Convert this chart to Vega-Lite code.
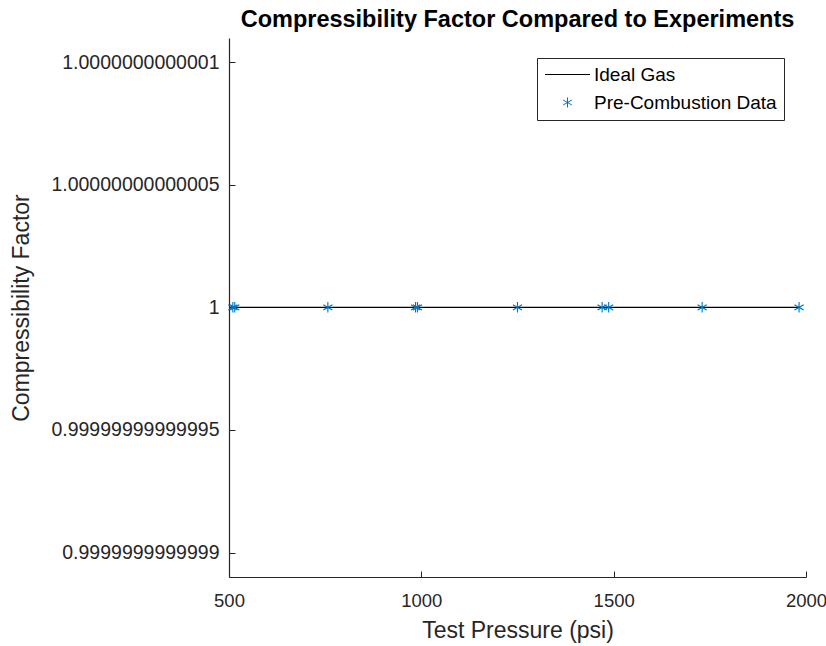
{
  "$schema": "https://vega.github.io/schema/vega-lite/v6.json",
  "width": 577,
  "height": 539,
  "autosize": {"type": "none"},
  "padding": {"left": 229, "top": 38, "right": 20, "bottom": 69},
  "background": "white",
  "config": {
    "view": {"stroke": null},
    "font": "Liberation Sans",
    "axis": {"domainColor": "#262626", "tickColor": "#262626", "labelColor": "#262626", "titleColor": "#262626", "grid": false, "labelFont": "Liberation Sans", "titleFont": "Liberation Sans", "titleFontWeight": "normal"}
  },
  "title": {"text": "Compressibility Factor Compared to Experiments", "fontSize": 23.5, "fontWeight": "bold", "font": "Liberation Sans", "color": "black", "anchor": "middle", "offset": 7},
  "data": {"values": [
    {"pressure": 510, "z": 1, "series": "Ideal Gas"},
    {"pressure": 515, "z": 1, "series": "Ideal Gas"},
    {"pressure": 757, "z": 1, "series": "Ideal Gas"},
    {"pressure": 985, "z": 1, "series": "Ideal Gas"},
    {"pressure": 990, "z": 1, "series": "Ideal Gas"},
    {"pressure": 1250, "z": 1, "series": "Ideal Gas"},
    {"pressure": 1470, "z": 1, "series": "Ideal Gas"},
    {"pressure": 1487, "z": 1, "series": "Ideal Gas"},
    {"pressure": 1730, "z": 1, "series": "Ideal Gas"},
    {"pressure": 1982, "z": 1, "series": "Ideal Gas"},
    {"pressure": 510, "z": 1, "series": "Pre-Combustion Data"},
    {"pressure": 515, "z": 1, "series": "Pre-Combustion Data"},
    {"pressure": 757, "z": 1, "series": "Pre-Combustion Data"},
    {"pressure": 985, "z": 1, "series": "Pre-Combustion Data"},
    {"pressure": 990, "z": 1, "series": "Pre-Combustion Data"},
    {"pressure": 1250, "z": 1, "series": "Pre-Combustion Data"},
    {"pressure": 1470, "z": 1, "series": "Pre-Combustion Data"},
    {"pressure": 1487, "z": 1, "series": "Pre-Combustion Data"},
    {"pressure": 1730, "z": 1, "series": "Pre-Combustion Data"},
    {"pressure": 1982, "z": 1, "series": "Pre-Combustion Data"}
  ]},
  "encoding": {
    "x": {"field": "pressure", "type": "quantitative", "title": "Test Pressure (psi)",
      "scale": {"domain": [500, 2000], "nice": false, "zero": false},
      "axis": {"values": [500, 1000, 1500, 2000], "format": "d", "tickSize": -6, "labelPadding": 20, "labelFontSize": 18.5, "titleFontSize": 23, "titlePadding": 10, "domainWidth": 1.2, "labelFlush": false}},
    "y": {"field": "z", "type": "quantitative", "title": "Compressibility Factor",
      "scale": {"domain": [0.99999999999989, 1.00000000000011], "nice": false, "zero": false},
      "axis": {"values": [0.9999999999999, 0.99999999999995, 1, 1.00000000000005, 1.0000000000001], "labelExpr": "toString(datum.value)", "tickSize": -6, "labelPadding": 16, "labelFontSize": 19.5, "titleFontSize": 23, "titlePadding": 17, "domainWidth": 1.2}},
    "color": {"field": "series", "type": "nominal",
      "scale": {"domain": ["Ideal Gas", "Pre-Combustion Data"], "range": ["#000000", "#0072BD"]},
      "legend": {"orient": "none", "legendX": 308, "legendY": 20, "title": null, "strokeColor": "#262626", "fillColor": "white", "padding": 7, "labelFontSize": 19, "labelLimit": 400, "labelColor": "black", "labelFont": "Liberation Sans", "symbolSize": 100, "symbolStrokeWidth": 1, "labelOffset": 17, "rowPadding": 8, "symbolOffset": 14}}
  },
  "layer": [
    {"transform": [{"filter": "datum.series == 'Ideal Gas'"}],
     "mark": {"type": "line", "strokeWidth": 1.2},
     "encoding": {"shape": {"field": "series", "type": "nominal", "scale": {"domain": ["Ideal Gas", "Pre-Combustion Data"], "range": ["M-4.5,0H4.5", "M0,-1V1M-0.87,-0.5L0.87,0.5M-0.87,0.5L0.87,-0.5"]}}}},
    {"transform": [{"filter": "datum.series == 'Pre-Combustion Data'"}],
     "mark": {"type": "point", "filled": false, "strokeWidth": 1.1, "size": 110, "opacity": 1},
     "encoding": {"shape": {"field": "series", "type": "nominal", "scale": {"domain": ["Ideal Gas", "Pre-Combustion Data"], "range": ["M-4.5,0H4.5", "M0,-1V1M-0.87,-0.5L0.87,0.5M-0.87,0.5L0.87,-0.5"]}}}}
  ]
}
